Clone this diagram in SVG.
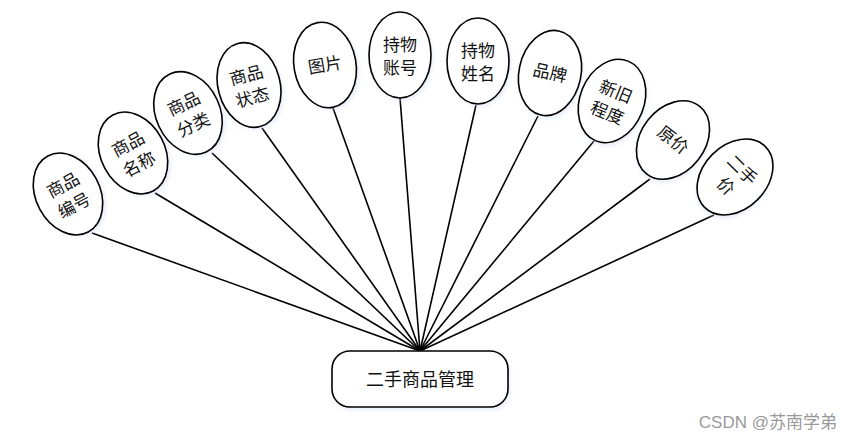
<svg xmlns="http://www.w3.org/2000/svg" width="851" height="441" viewBox="0 0 851 441">
<defs>
<filter id="bl" x="-30%" y="-30%" width="160%" height="160%">
<feGaussianBlur stdDeviation="2"/>
</filter>
</defs>
<style>
.e{fill:#fff;stroke:#000;stroke-width:1.6}
.s{fill:#c9d6ee;opacity:0.45;filter:url(#bl)}
.t{font-family:"Liberation Serif","Noto Sans CJK SC",serif;font-size:17px;fill:#111;text-anchor:middle}
.c line{stroke:#000;stroke-width:1.6}
</style>
<rect width="851" height="441" fill="#fff"/>
<g class="c" id="connectors">
<line x1="92" y1="233" x2="420" y2="351"/>
<line x1="155" y1="193" x2="420" y2="351"/>
<line x1="212" y1="153" x2="420" y2="351"/>
<line x1="262" y1="128" x2="420" y2="351"/>
<line x1="333" y1="108" x2="420" y2="351"/>
<line x1="400" y1="98" x2="420" y2="351"/>
<line x1="476" y1="105" x2="420" y2="351"/>
<line x1="538" y1="116" x2="420" y2="351"/>
<line x1="594" y1="141" x2="420" y2="351"/>
<line x1="650" y1="179" x2="420" y2="351"/>
<line x1="714" y1="215" x2="420" y2="351"/>
</g>
<g id="n1" transform="translate(68,194) rotate(-28)">
<ellipse class="s" cx="2" cy="3" rx="32" ry="43"/>
<ellipse class="e" rx="32" ry="43"/>
<text class="t" y="-4">商品</text><text class="t" y="19">编号</text>
</g>
<g id="n2" transform="translate(133,153) rotate(-28)">
<ellipse class="s" cx="2" cy="3" rx="32" ry="43"/>
<ellipse class="e" rx="32" ry="43"/>
<text class="t" y="-4">商品</text><text class="t" y="19">名称</text>
</g>
<g id="n3" transform="translate(188,113) rotate(-25)">
<ellipse class="s" cx="2" cy="3" rx="32" ry="43"/>
<ellipse class="e" rx="32" ry="43"/>
<text class="t" y="-4">商品</text><text class="t" y="19">分类</text>
</g>
<g id="n4" transform="translate(249,85) rotate(-15)">
<ellipse class="s" cx="2" cy="3" rx="31" ry="43"/>
<ellipse class="e" rx="31" ry="43"/>
<text class="t" y="-4">商品</text><text class="t" y="19">状态</text>
</g>
<g id="n5" transform="translate(325,65) rotate(-10)">
<ellipse class="s" cx="2" cy="3" rx="31" ry="43"/>
<ellipse class="e" rx="31" ry="43"/>
<text class="t" y="6">图片</text>
</g>
<g id="n6" transform="translate(400,55)">
<ellipse class="s" cx="2" cy="3" rx="31" ry="43"/>
<ellipse class="e" rx="31" ry="43"/>
<text class="t" y="-4">持物</text><text class="t" y="19">账号</text>
</g>
<g id="n7" transform="translate(478,61)">
<ellipse class="s" cx="2" cy="3" rx="31" ry="43"/>
<ellipse class="e" rx="31" ry="43"/>
<text class="t" y="-4">持物</text><text class="t" y="19">姓名</text>
</g>
<g id="n8" transform="translate(550,73) rotate(12)">
<ellipse class="s" cx="2" cy="3" rx="31" ry="43"/>
<ellipse class="e" rx="31" ry="43"/>
<text class="t" y="6">品牌</text>
</g>
<g id="n9" transform="translate(612,101) rotate(22)">
<ellipse class="s" cx="2" cy="3" rx="32" ry="43"/>
<ellipse class="e" rx="32" ry="43"/>
<text class="t" y="-4">新旧</text><text class="t" y="19">程度</text>
</g>
<g id="n10" transform="translate(673,140) rotate(38)">
<ellipse class="s" cx="2" cy="3" rx="32" ry="43"/>
<ellipse class="e" rx="32" ry="43"/>
<text class="t" y="6">原价</text>
</g>
<g id="n11" transform="translate(735,177) rotate(45)">
<ellipse class="s" cx="2" cy="3" rx="32" ry="43"/>
<ellipse class="e" rx="32" ry="43"/>
<text class="t" y="-4">二手</text><text class="t" y="19">价</text>
</g>
<g id="hub">
<rect x="334" y="354" width="176" height="56" rx="18" ry="18" class="s"/>
<rect x="332" y="351" width="176" height="56" rx="18" ry="18" class="e"/>
<text class="t" x="420" y="386" style="font-size:18px">二手商品管理</text>
</g>
<text x="837" y="428" style="font-family:'Liberation Sans','Noto Sans CJK SC',sans-serif;font-size:17px;fill:#999;text-anchor:end">CSDN @苏南学弟</text>
</svg>
